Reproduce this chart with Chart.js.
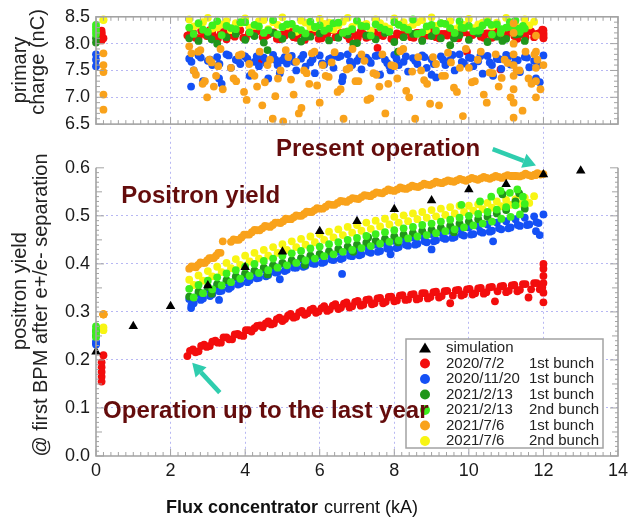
<!DOCTYPE html>
<html>
<head>
<meta charset="utf-8">
<script src="https://cdn.jsdelivr.net/npm/chart.js@4.4.1/dist/chart.umd.min.js"></script>
<style>
  html, body { margin: 0; padding: 0; background: #fff; }
  #wrap { width: 633px; height: 518px; }
</style>
</head>
<body>
<div id="wrap"><canvas id="yieldChart" width="633" height="518"></canvas></div>
<script>
/* ── data: x = flux concentrator current (kA) ── */
const xTicks = [0, 2, 4, 6, 8, 10, 12, 14];
const chargeTicks = [6.5, 7.0, 7.5, 8.0, 8.5];
const yieldTicks = [0.0, 0.1, 0.2, 0.3, 0.4, 0.5, 0.6];

const simX = [0, 1, 2, 3, 4, 5, 6, 7, 8, 9, 10, 11, 12, 13];
const simYield = [0.217, 0.27, 0.312, 0.355, 0.393, 0.425, 0.468, 0.489, 0.514, 0.532, 0.555, 0.566, 0.586, 0.594];

// 2020/7/2 1st bunch
const redX = [0.15, 0.15, 0.15, 0.15, 0.15, 0.2,
  2.45, 2.6, 2.75, 2.9, 3.05, 3.2, 3.35, 3.5, 3.65, 3.8, 3.95, 4.1, 4.25, 4.4, 4.55, 4.7, 4.85, 5.0, 5.15, 5.3,
  5.45, 5.6, 5.75, 5.9, 6.05, 6.2, 6.35, 6.5, 6.65, 6.8, 6.95, 7.1, 7.25, 7.4, 7.55, 7.7, 7.85, 8.0, 8.15, 8.3,
  8.45, 8.6, 8.75, 8.9, 9.05, 9.2, 9.35, 9.5, 9.65, 9.8, 9.95, 10.1, 10.25, 10.4, 10.55, 10.7, 10.85, 11.0, 11.15, 11.3,
  11.45, 11.6, 11.75, 11.9,
  12, 12, 12, 12, 12, 12,
  2.52, 2.67, 2.82, 2.97, 3.12, 3.27, 3.42, 3.57, 3.72, 3.87, 4.02, 4.17, 4.32, 4.47, 4.62, 4.77, 4.92, 5.07, 5.22, 5.37,
  5.52, 5.67, 5.82, 5.97, 6.12, 6.27, 6.42, 6.57, 6.72, 6.87, 7.02, 7.17, 7.32, 7.47, 7.62, 7.77, 7.92, 8.07, 8.22, 8.37,
  8.52, 8.67, 8.82, 8.97, 9.12, 9.27, 9.42, 9.57, 9.72, 9.87, 10.02, 10.17, 10.32, 10.47, 10.62, 10.77, 10.92, 11.07, 11.22, 11.37,
  11.52, 11.67, 11.82, 11.97];
const redYield = [0.155, 0.165, 0.175, 0.185, 0.195, 0.21,
  0.208, 0.222, 0.218, 0.232, 0.229, 0.240, 0.236, 0.247, 0.243, 0.254, 0.250, 0.262, 0.266, 0.272, 0.276, 0.274, 0.285, 0.281, 0.292, 0.288,
  0.299, 0.294, 0.304, 0.298, 0.308, 0.302, 0.313, 0.306, 0.317, 0.309, 0.321, 0.313, 0.325, 0.316, 0.328, 0.318, 0.331, 0.322, 0.334, 0.325,
  0.336, 0.326, 0.339, 0.328, 0.341, 0.330, 0.343, 0.318, 0.345, 0.334, 0.347, 0.336, 0.349, 0.338, 0.351, 0.322, 0.353, 0.341, 0.355, 0.343,
  0.358, 0.330, 0.360, 0.347,
  0.32, 0.34, 0.36, 0.375, 0.39, 0.40,
  0.219, 0.216, 0.229, 0.227, 0.238, 0.236, 0.247, 0.243, 0.253, 0.251, 0.262, 0.259, 0.271, 0.268, 0.280, 0.276, 0.288, 0.285, 0.296, 0.290,
  0.302, 0.297, 0.307, 0.301, 0.312, 0.305, 0.316, 0.309, 0.320, 0.312, 0.323, 0.315, 0.326, 0.318, 0.329, 0.321, 0.332, 0.324, 0.335, 0.326,
  0.337, 0.328, 0.339, 0.331, 0.342, 0.333, 0.344, 0.334, 0.346, 0.337, 0.348, 0.339, 0.350, 0.341, 0.352, 0.343, 0.354, 0.344, 0.356, 0.346,
  0.358, 0.347, 0.360, 0.351];
const redCharge = [8.06, 8.12, 8.18, 8.24, 8.2, 8.1,
  8.15, 8.22, 8.10, 8.18, 8.25, 8.12, 8.20, 8.08, 8.16, 8.23, 8.11, 8.19, 8.26, 7.69, 8.14, 8.21, 8.09, 8.17, 8.24, 8.12,
  8.20, 8.07, 8.15, 8.22, 8.10, 8.18, 8.25, 8.13, 8.21, 8.08, 8.16, 8.23, 8.11, 8.19, 7.92, 8.14, 8.21, 8.09, 8.17, 8.24,
  8.12, 8.20, 8.07, 8.15, 8.22, 8.10, 8.18, 8.25, 8.13, 8.21, 7.85, 8.16, 8.23, 8.11, 8.19, 8.26, 7.52, 8.14, 8.21, 8.09,
  8.17, 8.24, 8.12, 8.20,
  8.1, 8.15, 8.2, 8.25, 8.18, 8.12,
  8.18, 8.11, 8.24, 8.14, 8.2, 8.09, 8.22, 8.16, 8.13, 8.25, 8.1, 8.19, 8.23, 8.12, 8.17, 8.21, 8.08, 8.15, 8.24, 8.11,
  8.19, 8.14, 8.22, 8.09, 8.17, 8.25, 8.12, 8.2, 8.15, 8.23, 8.1, 8.18, 8.13, 8.21, 8.16, 8.24, 8.09, 8.19, 8.14, 8.22,
  8.11, 8.2, 8.17, 8.25, 8.12, 8.18, 8.15, 8.23, 8.1, 8.21, 8.16, 8.24, 8.13, 8.19, 8.11, 8.22, 8.17, 8.25, 8.14, 8.2,
  8.12, 8.23, 8.18, 8.26];

// 2020/11/20 1st bunch
const blueX = [0, 0, 0,
  2.5, 2.75, 3, 3.25, 3.5, 3.75, 4, 4.25, 4.5, 4.75, 5, 5.25, 5.5, 5.75, 6, 6.25, 6.5, 6.75, 7, 7.25,
  7.5, 7.75, 8, 8.25, 8.5, 8.75, 9, 9.25, 9.5, 9.75, 10, 10.25, 10.5, 10.75, 11, 11.25, 11.5, 11.75, 12,
  2.62, 2.87, 3.12, 3.37, 3.62, 3.87, 4.12, 4.37, 4.62, 4.87, 5.12, 5.37, 5.62, 5.87, 6.12, 6.37, 6.62, 6.87, 7.12,
  7.37, 7.62, 7.87, 8.12, 8.37, 8.62, 8.87, 9.12, 9.37, 9.62, 9.87, 10.12, 10.37, 10.62, 10.87, 11.12, 11.37, 11.62, 11.87,
  2.55, 3.3, 4.93, 6.6, 7.9, 9.0, 10.65, 11.8, 11.9,
  2.56, 2.81, 3.06, 3.31, 3.56, 3.81, 4.06, 4.31, 4.56, 4.81, 5.06, 5.31, 5.56, 5.81, 6.06, 6.31, 6.56, 6.81, 7.06,
  7.31, 7.56, 7.81, 8.06, 8.31, 8.56, 8.81, 9.06, 9.31, 9.56, 9.81, 10.06, 10.31, 10.56, 10.81, 11.06, 11.31, 11.56, 11.81];
const blueYield = [0.235, 0.232, 0.238,
  0.327, 0.338, 0.347, 0.355, 0.362, 0.371, 0.377, 0.383, 0.389, 0.395, 0.400, 0.405, 0.409, 0.413, 0.417, 0.421, 0.425, 0.429, 0.433, 0.437,
  0.440, 0.444, 0.448, 0.452, 0.455, 0.459, 0.462, 0.466, 0.469, 0.473, 0.476, 0.479, 0.482, 0.486, 0.489, 0.493, 0.496, 0.499, 0.503,
  0.318, 0.328, 0.337, 0.344, 0.352, 0.359, 0.366, 0.371, 0.377, 0.383, 0.388, 0.392, 0.396, 0.400, 0.404, 0.408, 0.412, 0.416, 0.420,
  0.423, 0.427, 0.431, 0.435, 0.438, 0.442, 0.445, 0.449, 0.452, 0.456, 0.459, 0.462, 0.465, 0.469, 0.472, 0.476, 0.479, 0.482, 0.485,
  0.308, 0.325, 0.368, 0.379, 0.42, 0.43, 0.447, 0.468, 0.46,
  0.314, 0.325, 0.333, 0.343, 0.348, 0.357, 0.362, 0.370, 0.374, 0.382, 0.385, 0.392, 0.394, 0.401, 0.402, 0.409, 0.410, 0.417, 0.418,
  0.425, 0.425, 0.432, 0.433, 0.440, 0.440, 0.447, 0.447, 0.454, 0.454, 0.461, 0.461, 0.467, 0.467, 0.474, 0.474, 0.481, 0.481, 0.487];
const blueCharge = [7.58, 7.7, 7.8,
  7.72, 7.78, 7.68, 7.75, 7.8, 7.7, 7.76, 7.66, 7.74, 7.79, 7.69, 7.77, 7.72, 7.65, 7.78, 7.71, 7.75, 7.8, 7.68, 7.74,
  7.77, 7.7, 7.79, 7.66, 7.73, 7.78, 7.71, 7.76, 7.69, 7.8, 7.74, 7.67, 7.77, 7.72, 7.79, 7.7, 7.75, 7.68, 7.78,
  7.5, 7.3, 7.6, 7.25, 7.55, 7.62, 7.4, 7.58, 7.35, 7.6, 7.63, 7.5, 7.57, 7.45, 7.61, 7.55, 7.38, 7.6, 7.52,
  7.64, 7.42, 7.58, 7.6, 7.48, 7.62, 7.55, 7.37, 7.6, 7.5, 7.63, 7.58, 7.44, 7.6, 7.53, 7.61, 7.47, 7.56, 7.6,
  7.2, 7.35, 7.45, 7.3, 7.5, 7.42, 7.4, 7.35, 7.28,
  7.66, 7.74, 7.7, 7.62, 7.78, 7.68, 7.72, 7.76, 7.64, 7.7, 7.75, 7.66, 7.79, 7.71, 7.63, 7.73, 7.77, 7.67, 7.74,
  7.69, 7.78, 7.64, 7.72, 7.76, 7.68, 7.75, 7.62, 7.7, 7.79, 7.66, 7.73, 7.77, 7.65, 7.71, 7.76, 7.69, 7.74, 7.67];

// 2021/2/13 1st bunch
const dgreenX = [0, 0,
  2.5, 2.75, 3, 3.25, 3.5, 3.75, 4, 4.25, 4.5, 4.75, 5, 5.25, 5.5, 5.75, 6, 6.25, 6.5, 6.75, 7,
  7.25, 7.5, 7.75, 8, 8.25, 8.5, 8.75, 9, 9.25, 9.5, 9.75, 10, 10.25, 10.5, 10.75, 11, 11.25, 11.5,
  3.1, 4.6, 5.6, 6.9, 7.3, 8.1, 9.6, 10.9, 11.35];
const dgreenYield = [0.25, 0.26,
  0.332, 0.342, 0.352, 0.358, 0.366, 0.374, 0.380, 0.386, 0.392, 0.397, 0.402, 0.407, 0.412, 0.417, 0.421, 0.426, 0.431, 0.436, 0.440,
  0.444, 0.448, 0.452, 0.457, 0.461, 0.464, 0.468, 0.471, 0.475, 0.479, 0.484, 0.488, 0.493, 0.498, 0.505, 0.512, 0.530, 0.515,
  0.338, 0.378, 0.398, 0.425, 0.455, 0.445, 0.466, 0.545, 0.547];
const dgreenCharge = [8.02, 8.1,
  8.1, 8.05, 8.15, 8.0, 8.12, 8.18, 8.07, 8.14, 8.02, 8.2, 8.09, 8.16, 8.04, 8.13, 8.19, 8.06, 8.11, 8.17, 8.01,
  8.15, 8.08, 8.2, 8.03, 8.12, 8.18, 8.05, 8.14, 8.1, 7.97, 8.16, 8.07, 8.19, 8.03, 8.13, 8.09, 8.17, 8.05,
  8.08, 7.88, 8.12, 8.0, 8.15, 7.85, 8.1, 8.05, 8.18];

// 2021/2/13 2nd bunch
const limeX = [0, 0, 0, 0,
  2.5, 2.75, 3, 3.25, 3.5, 3.75, 4, 4.25, 4.5, 4.75, 5, 5.25, 5.5, 5.75, 6, 6.25, 6.5, 6.75, 7,
  7.25, 7.5, 7.75, 8, 8.25, 8.5, 8.75, 9, 9.25, 9.5, 9.75, 10, 10.25, 10.5, 10.75, 11, 11.25, 11.5,
  2.62, 2.87, 3.12, 3.37, 3.62, 3.87, 4.12, 4.37, 4.62, 4.87, 5.12, 5.37, 5.62, 5.87, 6.12, 6.37, 6.62, 6.87,
  7.12, 7.37, 7.62, 7.87, 8.12, 8.37, 8.62, 8.87, 9.12, 9.37, 9.62, 9.87, 10.12, 10.37, 10.62, 10.87, 11.12, 11.37,
  9.8, 10.3, 10.6, 10.85, 11.1, 11.3, 11.45];
const limeYield = [0.248, 0.256, 0.263, 0.27,
  0.348, 0.356, 0.365, 0.372, 0.380, 0.387, 0.394, 0.400, 0.406, 0.411, 0.417, 0.422, 0.427, 0.432, 0.436, 0.441, 0.445, 0.450, 0.454,
  0.458, 0.462, 0.466, 0.470, 0.474, 0.477, 0.481, 0.484, 0.488, 0.492, 0.496, 0.500, 0.504, 0.508, 0.513, 0.518, 0.522, 0.525,
  0.330, 0.339, 0.347, 0.355, 0.362, 0.369, 0.375, 0.381, 0.387, 0.392, 0.397, 0.402, 0.407, 0.411, 0.416, 0.420, 0.425, 0.429,
  0.433, 0.437, 0.442, 0.446, 0.449, 0.453, 0.457, 0.460, 0.464, 0.468, 0.472, 0.476, 0.480, 0.484, 0.488, 0.494, 0.498, 0.503,
  0.523, 0.53, 0.54, 0.552, 0.548, 0.555, 0.54];
const limeCharge = [8.18, 8.24, 8.3, 8.35,
  8.3, 8.38, 8.22, 8.42, 8.33, 8.27, 8.4, 8.35, 8.2, 8.44, 8.31, 8.37, 8.25, 8.41, 8.34, 8.28, 8.39, 8.23, 8.43,
  8.32, 8.36, 8.26, 8.4, 8.3, 8.45, 8.21, 8.35, 8.38, 8.29, 8.42, 8.33, 8.24, 8.4, 8.36, 8.3, 8.43, 8.28,
  8.18, 8.26, 8.34, 8.16, 8.29, 8.4, 8.21, 8.32, 8.25, 8.17, 8.36, 8.28, 8.19, 8.31, 8.24, 8.38, 8.2, 8.27,
  8.33, 8.15, 8.3, 8.22, 8.35, 8.26, 8.18, 8.32, 8.24, 8.37, 8.2, 8.29, 8.23, 8.34, 8.17, 8.27, 8.31, 8.22,
  8.3, 8.25, 8.35, 8.2, 8.4, 8.28, 8.33];

// 2021/7/6 1st bunch
const orangeX = [0.2, 0.2, 0.2, 0.2, 0.2,
  2.5, 2.62, 2.74, 2.86, 2.98, 3.1, 3.22, 3.34, 3.4, 3.62, 3.76, 3.9, 4.04, 4.18, 4.32, 4.46, 4.6, 4.74, 4.88, 5.02,
  5.16, 5.3, 5.44, 5.58, 5.72, 5.86, 6.0, 6.16, 6.32, 6.48, 6.64, 6.8, 6.96, 7.12, 7.28, 7.44, 7.6, 7.76, 7.92, 8.08,
  8.24, 8.4, 8.56, 8.72, 8.88, 9.04, 9.2, 9.36, 9.52, 9.68, 9.84, 10.0, 10.16, 10.32, 10.48, 10.64, 10.8, 10.96, 11.12, 11.28,
  11.44, 11.6, 11.76, 11.92, 12.0,
  11.2, 11.2, 11.2, 11.2, 11.2, 11.2, 11.2, 11.2, 11.2,
  11.8, 11.8, 11.8, 11.8, 11.8,
  2.56, 2.68, 2.8, 2.92, 3.04, 3.16, 3.28,
  3.69, 3.83, 3.97, 4.11, 4.25, 4.39, 4.53, 4.67, 4.81, 4.95, 5.09, 5.23, 5.37, 5.51, 5.65, 5.79, 5.93,
  6.08, 6.24, 6.40, 6.56, 6.72, 6.88, 7.04, 7.20, 7.36, 7.52, 7.68, 7.84, 8.0, 8.16, 8.32, 8.48,
  8.64, 8.80, 8.96, 9.12, 9.28, 9.44, 9.60, 9.76, 9.92, 10.08, 10.24, 10.40, 10.56, 10.72, 10.88, 11.04,
  11.36, 11.52, 11.68, 11.84];
const orangeYield = [0.295, 0.295, 0.295, 0.295, 0.295,
  0.390, 0.394, 0.398, 0.402, 0.407, 0.412, 0.417, 0.423, 0.447, 0.446, 0.450, 0.455, 0.461, 0.466, 0.470, 0.474, 0.478, 0.481, 0.486, 0.489,
  0.493, 0.497, 0.500, 0.504, 0.508, 0.512, 0.515, 0.519, 0.523, 0.527, 0.530, 0.533, 0.536, 0.539, 0.542, 0.545, 0.548, 0.551, 0.553, 0.555,
  0.557, 0.559, 0.561, 0.563, 0.565, 0.567, 0.569, 0.571, 0.572, 0.574, 0.575, 0.576, 0.577, 0.578, 0.579, 0.580, 0.581, 0.582, 0.583, 0.583,
  0.584, 0.585, 0.586, 0.586, 0.587,
  0.583, 0.583, 0.583, 0.583, 0.583, 0.583, 0.583, 0.583, 0.583,
  0.586, 0.586, 0.586, 0.586, 0.586,
  0.395, 0.393, 0.403, 0.402, 0.412, 0.412, 0.423,
  0.451, 0.450, 0.461, 0.461, 0.471, 0.470, 0.479, 0.477, 0.486, 0.485, 0.494, 0.493, 0.501, 0.500, 0.509, 0.508, 0.516,
  0.515, 0.524, 0.523, 0.531, 0.529, 0.537, 0.535, 0.543, 0.541, 0.549, 0.547, 0.555, 0.552, 0.559, 0.556, 0.563,
  0.560, 0.567, 0.564, 0.571, 0.568, 0.574, 0.571, 0.577, 0.573, 0.579, 0.575, 0.581, 0.577, 0.583, 0.579, 0.585,
  0.582, 0.588, 0.583, 0.589];
const orangeCharge = [7.82, 7.6, 7.47, 7.05, 6.77,
  7.95, 7.5, 7.85, 7.25, 7.0, 7.65, 7.4, 7.9, 7.15, 7.55, 7.3, 7.8, 6.95, 7.45, 7.2, 6.85, 7.6, 6.6, 7.35, 6.55,
  7.75, 7.05, 6.7, 7.5, 7.25, 7.85, 6.9, 7.4, 7.65, 7.1, 6.6, 7.55, 7.3, 7.8, 6.95, 7.45, 7.2, 6.7, 7.6, 7.35,
  7.9, 7.0, 6.6, 7.5, 7.25, 7.75, 6.85, 7.4, 7.65, 7.1, 6.65, 7.55, 7.3, 7.85, 6.9, 7.45, 7.2, 7.7, 7.0, 7.5,
  6.75, 7.35, 7.8, 7.15, 7.6,
  6.62, 6.9, 7.15, 7.4, 7.6, 7.8, 8.0, 8.2, 8.38,
  7.0, 7.3, 7.55, 7.85, 8.15,
  7.82, 7.42, 7.88, 7.3, 7.7, 7.2, 7.58,
  7.35, 7.78, 7.1, 7.62, 7.4, 7.85, 7.28, 7.7, 7.02, 7.5, 7.88, 7.33, 7.66, 6.8, 7.45, 7.82, 7.22,
  7.6, 7.38, 7.84, 7.15, 7.52, 7.9, 7.3, 7.68, 6.98, 7.42, 7.8, 7.25, 7.58, 7.86, 7.12, 7.48,
  7.75, 7.32, 6.88, 7.62, 7.4, 7.83, 7.18, 7.55, 7.9, 7.28, 7.7, 7.05, 7.46, 7.8, 7.36, 7.64,
  7.5, 7.85, 7.25, 7.7];

// 2021/7/6 2nd bunch
const yellowX = [0.2, 0.2,
  2.5, 2.75, 3, 3.25, 3.5, 3.75, 4, 4.25, 4.5, 4.75, 5, 5.25, 5.5, 5.75, 6, 6.25, 6.5, 6.75, 7,
  7.25, 7.5, 7.75, 8, 8.25, 8.5, 8.75, 9, 9.25, 9.5, 9.75, 10, 10.25, 10.5, 10.75, 11, 11.25, 11.5, 11.75,
  2.62, 2.87, 3.12, 3.37, 3.62, 3.87, 4.12, 4.37, 4.62, 4.87, 5.12, 5.37, 5.62, 5.87, 6.12, 6.37, 6.62, 6.87,
  7.12, 7.37, 7.62, 7.87, 8.12, 8.37, 8.62, 8.87, 9.12, 9.37, 9.62, 9.87, 10.12, 10.37, 10.62, 10.87, 11.12, 11.37, 11.62];
const yellowYield = [0.262, 0.268,
  0.367, 0.376, 0.385, 0.394, 0.402, 0.410, 0.417, 0.423, 0.429, 0.435, 0.441, 0.447, 0.452, 0.457, 0.462, 0.467, 0.472, 0.477, 0.481,
  0.486, 0.490, 0.494, 0.498, 0.501, 0.505, 0.508, 0.512, 0.515, 0.518, 0.521, 0.521, 0.524, 0.527, 0.530, 0.533, 0.535, 0.538, 0.541,
  0.356, 0.365, 0.374, 0.383, 0.391, 0.398, 0.405, 0.411, 0.417, 0.423, 0.429, 0.435, 0.440, 0.445, 0.450, 0.455, 0.460, 0.465,
  0.469, 0.473, 0.478, 0.482, 0.486, 0.489, 0.493, 0.496, 0.499, 0.502, 0.505, 0.508, 0.511, 0.514, 0.517, 0.520, 0.523, 0.525, 0.527];
const yellowCharge = [8.45, 8.44,
  8.45, 8.35, 8.48, 8.3, 8.42, 8.38, 8.47, 8.33, 8.44, 8.4, 8.49, 8.36, 8.43, 8.31, 8.46, 8.39, 8.34, 8.48, 8.41,
  8.37, 8.45, 8.32, 8.47, 8.4, 8.35, 8.44, 8.49, 8.38, 8.42, 8.33, 8.46, 8.36, 8.43, 8.39, 8.48, 8.34, 8.45, 8.41,
  8.32, 8.4, 8.28, 8.36, 8.25, 8.38, 8.3, 8.42, 8.27, 8.35, 8.33, 8.22, 8.39, 8.29, 8.37, 8.26, 8.41, 8.31,
  8.34, 8.24, 8.38, 8.28, 8.36, 8.3, 8.4, 8.25, 8.33, 8.37, 8.27, 8.35, 8.29, 8.39, 8.32, 8.26, 8.36, 8.3, 8.34];

/* ── series table (legend order); order = draw order, lower is drawn on top ── */
const series = [
  { date: '2020/7/2',   bunch: '1st bunch', color: '#f30d0d', x: redX,    yld: redYield,    q: redCharge,    order: 6 },
  { date: '2020/11/20', bunch: '1st bunch', color: '#1450f5', x: blueX,   yld: blueYield,   q: blueCharge,   order: 5 },
  { date: '2021/2/13',  bunch: '1st bunch', color: '#20961a', x: dgreenX, yld: dgreenYield, q: dgreenCharge, order: 3 },
  { date: '2021/2/13',  bunch: '2nd bunch', color: '#3cef1e', x: limeX,   yld: limeYield,   q: limeCharge,   order: 2 },
  { date: '2021/7/6',   bunch: '1st bunch', color: '#f9a21b', x: orangeX, yld: orangeYield, q: orangeCharge, order: 1 },
  { date: '2021/7/6',   bunch: '2nd bunch', color: '#f8f513', x: yellowX, yld: yellowYield, q: yellowCharge, order: 4 },
];

const FONT = "'Liberation Sans', Arial, sans-serif";
const GRID = 'rgba(135,135,235,0.6)';
const FRAME = '#a3a3a3';
const NOTE = '#640c0c';
const ARROW = '#2fcdae';

Chart.defaults.font.family = FONT;

const pts = (xs, ys) => xs.map((v, i) => ({ x: v, y: ys[i] }));

const datasets = [{
  label: 'simulation',
  data: pts(simX, simYield),
  yAxisID: 'y',
  pointStyle: 'triangle',
  pointRadius: 5.5,
  backgroundColor: '#000',
  borderColor: '#000',
  borderWidth: 0,
  order: 0,
  clip: false,
}];
series.forEach((s) => {
  const common = {
    label: `${s.date} ${s.bunch}`,
    pointRadius: 3.9,
    borderWidth: 0,
    backgroundColor: s.color,
    borderColor: s.color,
    order: s.order,
    clip: false,
  };
  datasets.push({ ...common, data: pts(s.x, s.yld), yAxisID: 'y' });
  datasets.push({ ...common, data: pts(s.x, s.q), yAxisID: 'y2' });
});

/* ── frames, minor ticks, legend and notes ── */
function arrow(ctx, x0, y0, x1, y1) {
  const a = Math.atan2(y1 - y0, x1 - x0);
  const head = 13, half = 7.5;
  const bx = x1 - head * Math.cos(a), by = y1 - head * Math.sin(a);
  ctx.strokeStyle = ARROW;
  ctx.fillStyle = ARROW;
  ctx.lineWidth = 4.5;
  ctx.beginPath();
  ctx.moveTo(x0, y0);
  ctx.lineTo(bx, by);
  ctx.stroke();
  ctx.beginPath();
  ctx.moveTo(x1, y1);
  ctx.lineTo(bx + half * Math.sin(a), by - half * Math.cos(a));
  ctx.lineTo(bx - half * Math.sin(a), by + half * Math.cos(a));
  ctx.closePath();
  ctx.fill();
}

const panelDecor = {
  id: 'panelDecor',
  afterDatasetsDraw(chart) {
    const { ctx, scales } = chart;
    const xs = scales.x, ys = scales.y, qs = scales.y2;
    const L = xs.getPixelForValue(0), R = xs.getPixelForValue(14);
    const t1 = qs.getPixelForValue(8.5), b1 = qs.getPixelForValue(6.5);
    const t2 = ys.getPixelForValue(0.6), b2 = ys.getPixelForValue(0);

    ctx.save();
    ctx.strokeStyle = FRAME;
    ctx.lineWidth = 1.6;
    ctx.strokeRect(L, t1, R - L, b1 - t1);
    ctx.beginPath();
    ctx.moveTo(L, t2);
    ctx.lineTo(L, b2);
    ctx.lineTo(R, b2);
    ctx.lineTo(R, t2);
    ctx.stroke();

    ctx.lineWidth = 1;
    ctx.beginPath();
    for (let i = 0; i <= 70; i++) {
      const px = xs.getPixelForValue(i * 0.2);
      const len = i % 10 === 0 ? 7 : 4;
      ctx.moveTo(px, t1); ctx.lineTo(px, t1 + len);
      ctx.moveTo(px, b1); ctx.lineTo(px, b1 - len);
      ctx.moveTo(px, b2); ctx.lineTo(px, b2 - len);
    }
    for (let i = 65; i <= 85; i++) {
      const py = qs.getPixelForValue(i / 10);
      const len = i % 5 === 0 ? 8 : 4;
      ctx.moveTo(L, py); ctx.lineTo(L + len, py);
      ctx.moveTo(R, py); ctx.lineTo(R - len, py);
    }
    for (let i = 0; i <= 60; i++) {
      const py = ys.getPixelForValue(i / 100);
      const len = i % 10 === 0 ? 8 : (i % 5 === 0 ? 6 : 3);
      ctx.moveTo(L, py); ctx.lineTo(L + len, py);
      ctx.moveTo(R, py); ctx.lineTo(R - len, py);
    }
    ctx.stroke();
    ctx.restore();
  },

  afterDraw(chart) {
    const { ctx, chartArea, scales } = chart;
    const xs = scales.x, ys = scales.y;
    ctx.save();

    // legend box
    const lw = 197, lh = 109;
    const lx = chartArea.right - 212, ly = chartArea.bottom - 117;
    ctx.fillStyle = '#fff';
    ctx.fillRect(lx, ly, lw, lh);
    ctx.strokeStyle = FRAME;
    ctx.lineWidth = 1.5;
    ctx.strokeRect(lx, ly, lw, lh);
    ctx.font = `15px ${FONT}`;
    ctx.textBaseline = 'middle';
    ctx.textAlign = 'left';
    const rowY = (k) => ly + 9 + k * 15.5;
    ctx.fillStyle = '#000';
    ctx.beginPath();
    ctx.moveTo(lx + 19, rowY(0) - 5.5);
    ctx.lineTo(lx + 25, rowY(0) + 4.5);
    ctx.lineTo(lx + 13, rowY(0) + 4.5);
    ctx.closePath();
    ctx.fill();
    ctx.fillStyle = '#222';
    ctx.fillText('simulation', lx + 40, rowY(0));
    series.forEach((s, k) => {
      const cy = rowY(k + 1);
      ctx.fillStyle = s.color;
      ctx.beginPath();
      ctx.arc(lx + 19, cy, 5, 0, Math.PI * 2);
      ctx.fill();
      ctx.fillStyle = '#222';
      ctx.fillText(s.date, lx + 40, cy);
      ctx.fillText(s.bunch, lx + 123, cy);
    });

    // notes
    ctx.fillStyle = NOTE;
    ctx.font = `bold 24px ${FONT}`;
    ctx.textBaseline = 'alphabetic';
    ctx.fillText('Present operation', xs.getPixelForValue(4.83), ys.getPixelForValue(0.625));
    ctx.fillText('Positron yield', xs.getPixelForValue(0.68), ys.getPixelForValue(0.526));
    ctx.fillText('Operation up to the last year', xs.getPixelForValue(0.19), ys.getPixelForValue(0.079));

    arrow(ctx, xs.getPixelForValue(10.64), ys.getPixelForValue(0.639), xs.getPixelForValue(11.8), ys.getPixelForValue(0.605));
    arrow(ctx, xs.getPixelForValue(3.32), ys.getPixelForValue(0.132), xs.getPixelForValue(2.58), ys.getPixelForValue(0.194));

    // x title: bold + regular parts
    ctx.fillStyle = '#111';
    ctx.font = `bold 18px ${FONT}`;
    const part1 = 'Flux concentrator';
    const w1 = ctx.measureText(part1).width;
    ctx.fillText(part1, 166, 513);
    ctx.font = `18px ${FONT}`;
    ctx.fillText('current (kA)', 166 + w1 + 6, 513);

    // y titles, rotated
    ctx.font = `20px ${FONT}`;
    ctx.fillStyle = '#222';
    ctx.textAlign = 'center';
    ctx.textBaseline = 'middle';
    const vText = (txt, x, y) => {
      ctx.save();
      ctx.translate(x, y);
      ctx.rotate(-Math.PI / 2);
      ctx.fillText(txt, 0, 0);
      ctx.restore();
    };
    vText('primary', 20, 70);
    vText('charge (nC)', 38, 62);
    vText('positron yield', 20, 291);
    vText('@ first BPM after e+/e- separation', 41, 305);

    ctx.restore();
  },
};

const gridColor = (lo, hi) => (c) =>
  c.tick && c.tick.value > lo && c.tick.value < hi ? GRID : 'rgba(0,0,0,0)';

new Chart(document.getElementById('yieldChart'), {
  type: 'scatter',
  data: { datasets },
  plugins: [panelDecor],
  options: {
    responsive: false,
    animation: false,
    events: [],
    layout: { padding: { top: 14, right: 15, bottom: 0, left: 0 } },
    plugins: { legend: { display: false }, tooltip: { enabled: false } },
    scales: {
      x: {
        type: 'linear',
        min: xTicks[0],
        max: xTicks[xTicks.length - 1],
        afterFit(scale) { scale.height = 62; },
        ticks: { stepSize: 2, autoSkip: false, padding: 4, color: '#1a1a1a', font: { size: 18 } },
        grid: { color: gridColor(0.5, 13.5), drawTicks: false, lineWidth: 1 },
        border: { display: false, dash: [2, 3] },
      },
      y: {
        type: 'linear',
        min: yieldTicks[0],
        max: 0.691,
        stack: 'panels',
        stackWeight: 334,
        weight: 1,
        afterFit(scale) { scale.width = 96; },
        ticks: {
          stepSize: 0.1,
          autoSkip: false,
          includeBounds: false,
          padding: 6,
          color: '#1a1a1a',
          font: { size: 18 },
          callback: (v) => (v <= yieldTicks[yieldTicks.length - 1] + 1e-6 ? Number(v).toFixed(1) : ''),
        },
        grid: { color: gridColor(0.001, 0.599), drawTicks: false, lineWidth: 1 },
        border: { display: false, dash: [2, 3] },
      },
      y2: {
        type: 'linear',
        min: chargeTicks[0],
        max: chargeTicks[chargeTicks.length - 1],
        stack: 'panels',
        stackWeight: 108,
        weight: 2,
        afterFit(scale) { scale.width = 96; },
        ticks: {
          stepSize: 0.5,
          autoSkip: false,
          padding: 6,
          color: '#1a1a1a',
          font: { size: 18 },
          callback: (v) => Number(v).toFixed(1),
        },
        grid: { color: gridColor(6.55, 8.45), drawTicks: false, lineWidth: 1 },
        border: { display: false, dash: [2, 3] },
      },
    },
  },
});
</script>
</body>
</html>
